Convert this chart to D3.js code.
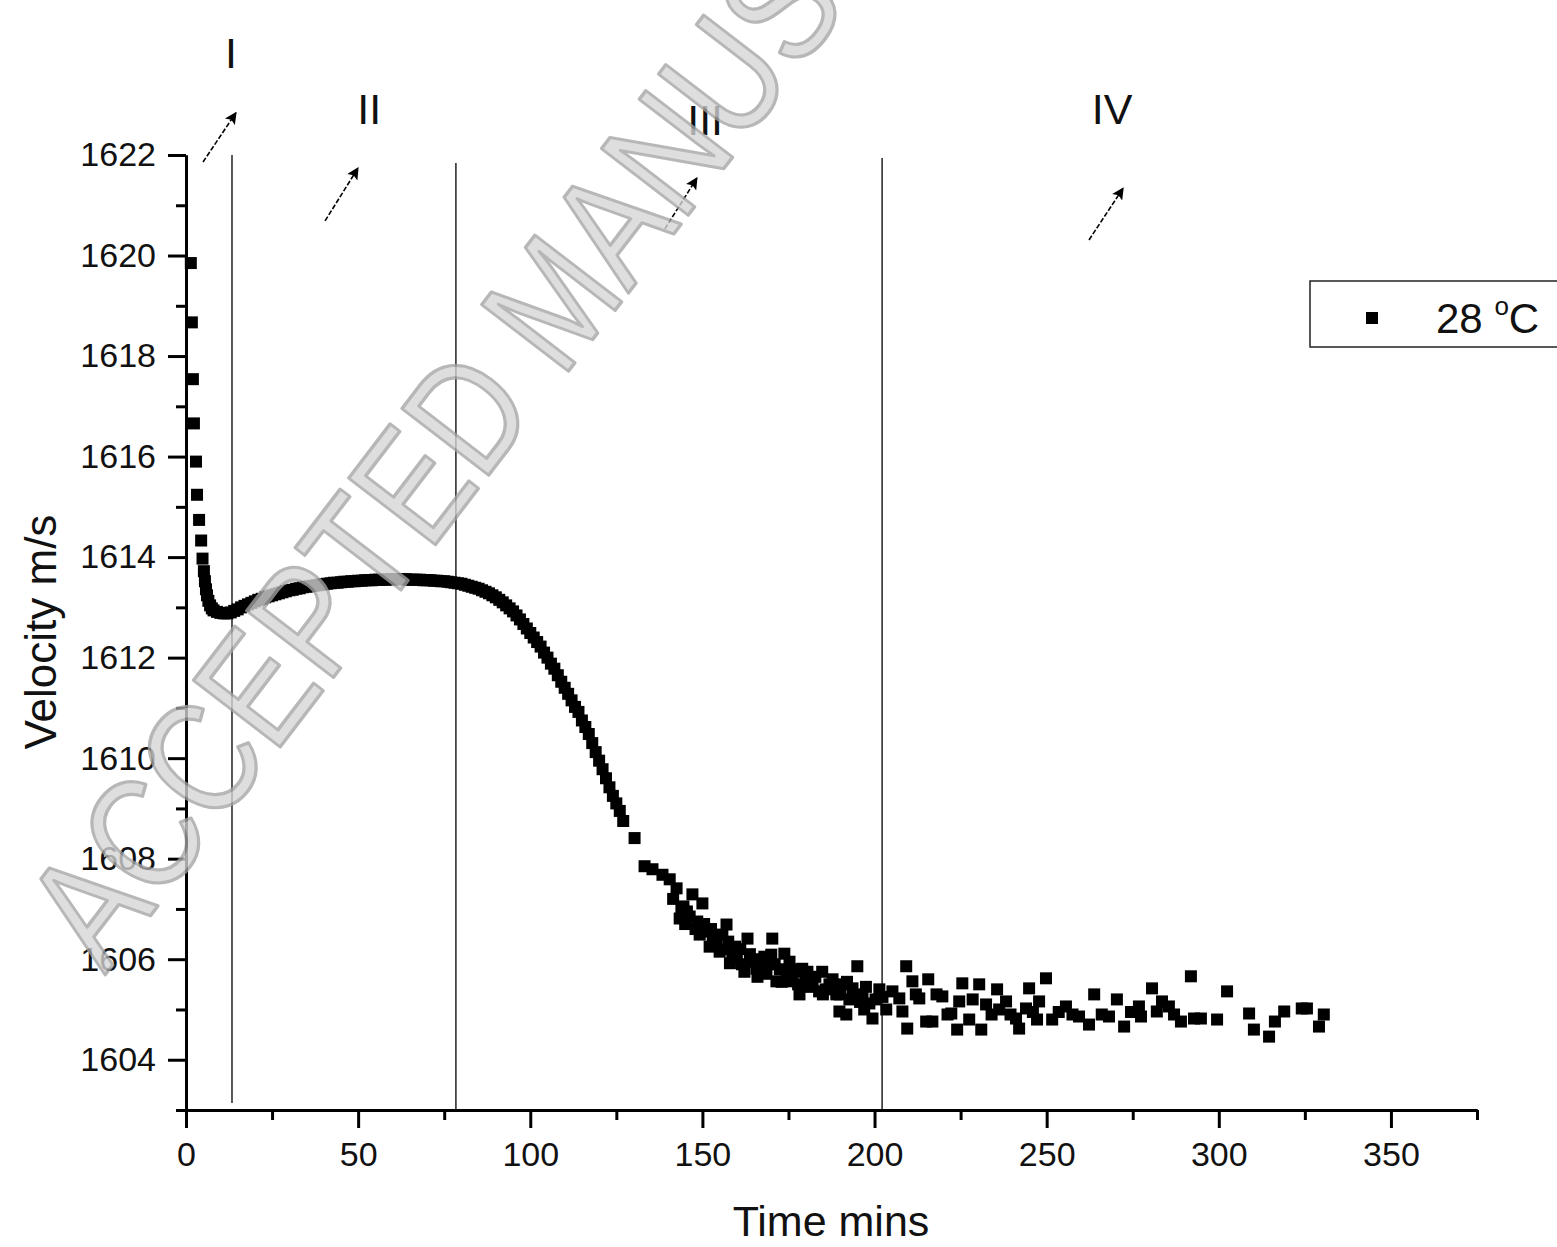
<!DOCTYPE html>
<html>
<head>
<meta charset="utf-8">
<script src="https://cdn.jsdelivr.net/npm/d3@7"></script>
<style>
	body { margin: 0; background: #fff; }
	text { font-family: Arial, "Liberation Sans", sans-serif; }
</style>
</head>
<body>
<div id="chart"></div>
<script>

// smooth part of the run (region I to start of IV), minutes / m/s
var timeSmooth = [1.4, 1.7, 2.0, 2.3, 2.9, 3.2, 3.8, 4.4, 4.8, 5.2, 5.5, 5.8, 6.1, 6.5, 7.0, 7.5, 8, 9, 10, 11, 12, 13, 14, 15, 16, 17, 18, 19, 20,
	21, 22, 23, 24, 25, 26, 27, 28, 29, 30, 31, 32, 33, 34, 35, 36, 37, 38, 39, 40, 41, 42, 43, 44, 45, 46, 47, 48, 49, 50,
	51, 52, 53, 54, 55, 56, 57, 58, 59, 60, 61, 62, 63, 64, 65, 66, 67, 68, 69, 70, 71, 72, 73, 74, 75, 76, 77, 78, 79, 80,
	81, 82, 83, 84, 85, 86, 87, 88, 89, 90, 91, 92, 93, 94, 95, 96, 97, 98, 99, 100, 101, 102, 103, 104, 105, 106, 107, 108, 109, 110,
	111, 112, 113, 114, 115, 116, 117, 118, 119, 120, 121, 122, 123, 124, 125, 126, 127, 130.3];
var velSmooth = [1619.85, 1618.67, 1617.54, 1616.66, 1615.90, 1615.24, 1614.74, 1614.33, 1613.97, 1613.72, 1613.52, 1613.36, 1613.24, 1613.13, 1613.04, 1612.98, 1612.94, 1612.91, 1612.89, 1612.88, 1612.88, 1612.90, 1612.93, 1612.96, 1613.00, 1613.03, 1613.06, 1613.09, 1613.12,
	1613.15, 1613.17, 1613.20, 1613.22, 1613.24, 1613.26, 1613.28, 1613.30, 1613.32, 1613.34, 1613.35, 1613.37, 1613.38, 1613.40, 1613.41, 1613.42, 1613.43, 1613.44, 1613.45, 1613.46, 1613.47, 1613.48, 1613.49, 1613.49, 1613.50, 1613.51, 1613.51, 1613.52, 1613.52, 1613.53,
	1613.53, 1613.54, 1613.54, 1613.54, 1613.55, 1613.55, 1613.55, 1613.55, 1613.56, 1613.56, 1613.56, 1613.56, 1613.56, 1613.56, 1613.55, 1613.55, 1613.55, 1613.55, 1613.54, 1613.54, 1613.54, 1613.53, 1613.53, 1613.52, 1613.52, 1613.51, 1613.50, 1613.49, 1613.48, 1613.47,
	1613.45, 1613.43, 1613.41, 1613.39, 1613.37, 1613.34, 1613.31, 1613.28, 1613.24, 1613.20, 1613.15, 1613.10, 1613.04, 1612.98, 1612.92, 1612.84, 1612.76, 1612.67, 1612.58, 1612.49, 1612.40, 1612.31, 1612.22, 1612.10, 1612.00, 1611.88, 1611.78, 1611.65, 1611.52, 1611.40,
	1611.28, 1611.15, 1611.02, 1610.92, 1610.75, 1610.62, 1610.48, 1610.30, 1610.12, 1609.95, 1609.78, 1609.60, 1609.42, 1609.25, 1609.10, 1608.95, 1608.75, 1608.41];

// scattered tail
var timeScatter = [133.2, 135.5, 138.4, 140.5, 142.5, 143.4, 143.9, 144.5, 145, 146.3, 147.1, 148, 149.2, 150, 151, 152.1, 153, 154, 155.8, 156.5, 157, 158, 158.7, 160,
	161, 162.2, 163.1, 164, 165.7, 166.5, 167.5, 168.6, 169, 170, 170.3, 171.5, 172.5, 173.8, 174.5, 175.3, 176.1, 177, 178.2, 179, 180, 181, 182, 183.9, 184.8,
	185.8, 186.9, 187.8, 188.9, 189.8, 190.7, 191.8, 192.7, 193.6, 194.5, 195, 196.5, 197.5, 198.5, 199.4, 200.3, 201.4, 202.3, 203.4,
	205.2, 207.2, 208.1, 209.2, 209.5, 211, 212, 213, 215, 215.6, 216.8, 218, 219.7, 221.2, 222.3, 224, 224.6, 225.5, 227.5, 228.5, 230.4, 231, 232.4, 234, 235.6, 236.2, 238.2, 239.5,
	241.1, 242, 244, 244.9, 246, 247.2, 247.8, 249.8, 251.6, 253.5, 255.6, 257.5, 259.4, 262.3, 263.8, 266, 268.1, 270.4, 272.5, 274.5, 276.8, 277.4, 280.6, 282, 283.5, 285.5, 287, 289,
	291.9, 292.8, 294.8, 299.5, 302.4, 308.8, 310.2, 314.6, 316.3, 319, 324.1, 325.6, 329.1, 330.5,
	141.5, 145.5, 148.5, 150.5, 152.5, 155, 157.5, 159.5, 161.5, 163.8, 166, 168, 171, 173, 175.8, 177.8, 180.5, 182.8, 185, 188, 190, 192, 195.8, 197];
var velScatter = [1607.85, 1607.79, 1607.68, 1607.59, 1607.41, 1606.81, 1606.99, 1607.05, 1606.70, 1606.85, 1607.29, 1606.60, 1606.49, 1607.11, 1606.55, 1606.25, 1606.41, 1606.30, 1606.49, 1606.20, 1606.69, 1605.92, 1606.09, 1606.00,
	1606.20, 1605.75, 1606.41, 1605.95, 1605.81, 1606.00, 1605.85, 1605.71, 1605.90, 1606.09, 1606.41, 1605.56, 1605.80, 1606.11, 1605.70, 1605.95, 1605.56, 1605.75, 1605.30, 1605.81, 1605.60, 1605.45, 1605.56, 1605.36, 1605.75,
	1605.40, 1605.50, 1605.60, 1605.30, 1604.96, 1605.50, 1604.90, 1605.20, 1605.42, 1605.25, 1605.86, 1605.30, 1605.45, 1605.12, 1604.82, 1605.20, 1605.40, 1605.25, 1605.00,
	1605.36, 1605.22, 1604.96, 1605.86, 1604.62, 1605.56, 1605.30, 1605.22, 1604.76, 1605.60, 1604.76, 1605.30, 1605.26, 1604.90, 1604.92, 1604.60, 1605.16, 1605.52, 1604.80, 1605.20, 1605.50, 1604.60, 1605.10, 1604.90, 1605.40, 1605.00, 1605.16, 1604.90,
	1604.82, 1604.62, 1605.02, 1605.42, 1604.95, 1604.80, 1605.16, 1605.62, 1604.80, 1604.95, 1605.06, 1604.90, 1604.86, 1604.70, 1605.30, 1604.90, 1604.86, 1605.20, 1604.66, 1604.95, 1605.06, 1604.86, 1605.42, 1604.96, 1605.16, 1605.06, 1604.90, 1604.76,
	1605.66, 1604.82, 1604.82, 1604.80, 1605.36, 1604.92, 1604.60, 1604.46, 1604.76, 1604.96, 1605.02, 1605.02, 1604.66, 1604.90,
	1607.20, 1606.95, 1606.75, 1606.70, 1606.60, 1606.15, 1606.35, 1606.25, 1605.90, 1606.10, 1605.65, 1606.05, 1605.90, 1605.55, 1605.80, 1605.50, 1605.75, 1605.65, 1605.30, 1605.45, 1605.30, 1605.55, 1605.15, 1605.00];

var xMajor = [0, 50, 100, 150, 200, 250, 300, 350];
var xMinor = [25, 75, 125, 175, 225, 275, 325, 375];
var yMajor = [1604, 1606, 1608, 1610, 1612, 1614, 1616, 1618, 1620, 1622];
var yMinor = [1603, 1605, 1607, 1609, 1611, 1613, 1615, 1617, 1619, 1621];

// region boundaries and labels (data units)
var regionLines = [13.36, 78.4, 202.2];
var regionNames = ["I", "II", "III", "IV"];
var regionLabelT = [13.07, 53.2, 150.8, 269];
var regionLabelV = [1623.73, 1622.62, 1622.4, 1622.62];
var arrowFrom = [[4.94, 1621.86], [40.4, 1620.69], [139.1, 1620.53], [262.3, 1620.31]];
var arrowTo = [[14.5, 1622.84], [49.96, 1621.74], [148.4, 1621.54], [272.2, 1621.34]];

var seriesName = "28 ";

var W = 1557, H = 1247;
var ink = "#111";

var svg = d3.select("#chart").append("svg")
	.attr("width", W)
	.attr("height", H)
	.style("background", "#fff");

var x = d3.scaleLinear().domain([0, 375]).range([186, 1477]);
var y = d3.scaleLinear().domain([1603, 1622]).range([1110, 155]);

var points = [];
timeSmooth.forEach(function (t, i) { points.push({t: t, v: velSmooth[i]}); });
timeScatter.forEach(function (t, i) { points.push({t: t, v: velScatter[i]}); });

// region lines
svg.append("g").selectAll("line")
	.data(regionLines)
	.enter()
	.append("line")
	.attr("x1", function (d) { return x(d); })
	.attr("x2", function (d) { return x(d); })
	.attr("y1", function (d, i) { return i == 1 ? y(1621.84) : (i == 2 ? y(1621.94) : y(1622)); })
	.attr("y2", function (d, i) { return i == 0 ? y(1603.14) : y(1603); })
	.attr("stroke", "#222")
	.attr("stroke-width", 1.5);

// data squares
var sz = 12;
svg.append("g").selectAll("rect")
	.data(points)
	.enter()
	.append("rect")
	.attr("x", function (d) { return x(d.t) - sz / 2; })
	.attr("y", function (d) { return y(d.v) - sz / 2; })
	.attr("width", sz)
	.attr("height", sz)
	.attr("fill", "#000");

// axes
function styleAxis (g) {
	g.select(".domain").attr("stroke", "#000").attr("stroke-width", 3);
	g.selectAll(".tick line").attr("stroke", "#000").attr("stroke-width", 3);
	g.selectAll(".tick text").attr("font-size", 34).attr("fill", ink)
		.style("font-family", "Arial, 'Liberation Sans', sans-serif");
}

svg.append("g")
	.attr("transform", "translate(0," + y(1603) + ")")
	.call(d3.axisBottom(x).tickValues(xMinor).tickSize(10).tickSizeOuter(0).tickFormat(""))
	.call(styleAxis);
svg.append("g")
	.attr("transform", "translate(0," + y(1603) + ")")
	.call(d3.axisBottom(x).tickValues(xMajor).tickSize(18).tickSizeOuter(0).tickPadding(14))
	.call(styleAxis);

svg.append("g")
	.attr("transform", "translate(" + x(0) + ",0)")
	.call(d3.axisLeft(y).tickValues(yMinor).tickSize(10).tickSizeOuter(0).tickFormat(""))
	.call(styleAxis);
svg.append("g")
	.attr("transform", "translate(" + x(0) + ",0)")
	.call(d3.axisLeft(y).tickValues(yMajor).tickSize(18).tickSizeOuter(0).tickPadding(12).tickFormat(d3.format("d")))
	.call(styleAxis);

// axis titles
svg.append("text")
	.attr("x", 831)
	.attr("y", 1236)
	.attr("text-anchor", "middle")
	.attr("font-size", 43)
	.attr("fill", ink)
	.text("Time mins");

svg.append("text")
	.attr("transform", "translate(56,632) rotate(-90)")
	.attr("text-anchor", "middle")
	.attr("font-size", 44)
	.attr("fill", ink)
	.text("Velocity m/s");

// region labels + arrows
svg.append("defs").append("marker")
	.attr("id", "head")
	.attr("viewBox", "0 0 10 10")
	.attr("refX", 9)
	.attr("refY", 5)
	.attr("markerWidth", 18)
	.attr("markerHeight", 12)
	.attr("markerUnits", "userSpaceOnUse")
	.attr("orient", "auto")
	.append("path")
	.attr("d", "M0,0 L10,5 L0,10 L2,5 z")
	.attr("fill", "#000");

svg.append("g").selectAll("text")
	.data(regionNames)
	.enter()
	.append("text")
	.attr("x", function (d, i) { return x(regionLabelT[i]); })
	.attr("y", function (d, i) { return y(regionLabelV[i]); })
	.attr("text-anchor", "middle")
	.attr("font-size", 43)
	.attr("fill", ink)
	.text(function (d) { return d; });

svg.append("g").selectAll("line")
	.data(arrowFrom)
	.enter()
	.append("line")
	.attr("x1", function (d) { return x(d[0]); })
	.attr("y1", function (d) { return y(d[1]); })
	.attr("x2", function (d, i) { return x(arrowTo[i][0]); })
	.attr("y2", function (d, i) { return y(arrowTo[i][1]); })
	.attr("stroke", "#000")
	.attr("stroke-width", 1.6)
	.attr("stroke-dasharray", "5,2")
	.attr("marker-end", "url(#head)");

// legend
var lg = svg.append("g").attr("transform", "translate(1310,281)");
lg.append("rect")
	.attr("width", 262)
	.attr("height", 66)
	.attr("fill", "#fff")
	.attr("stroke", "#222")
	.attr("stroke-width", 1.5);
lg.append("rect")
	.attr("x", 62 - sz / 2)
	.attr("y", 37 - sz / 2)
	.attr("width", sz)
	.attr("height", sz)
	.attr("fill", "#000");
var lt = lg.append("text")
	.attr("x", 126)
	.attr("y", 52)
	.attr("font-size", 42)
	.attr("fill", ink);
lt.append("tspan").text(seriesName);
lt.append("tspan").attr("font-size", 26).attr("dy", -18).text("o");
lt.append("tspan").attr("dy", 18).text("C");

// "accepted manuscript" stamp over the plot
svg.append("text")
	.attr("transform", "translate(105,975) rotate(-52.5) scale(0.95,1.15)")
	.attr("font-size", 138)
	.attr("fill", "#d6d6d6")
	.attr("stroke", "#a4a4a4")
	.attr("stroke-width", 3)
	.attr("stroke-linejoin", "round")
	.attr("opacity", 0.78)
	.text("ACCEPTED MANUSCRIPT");

</script>
</body>
</html>
